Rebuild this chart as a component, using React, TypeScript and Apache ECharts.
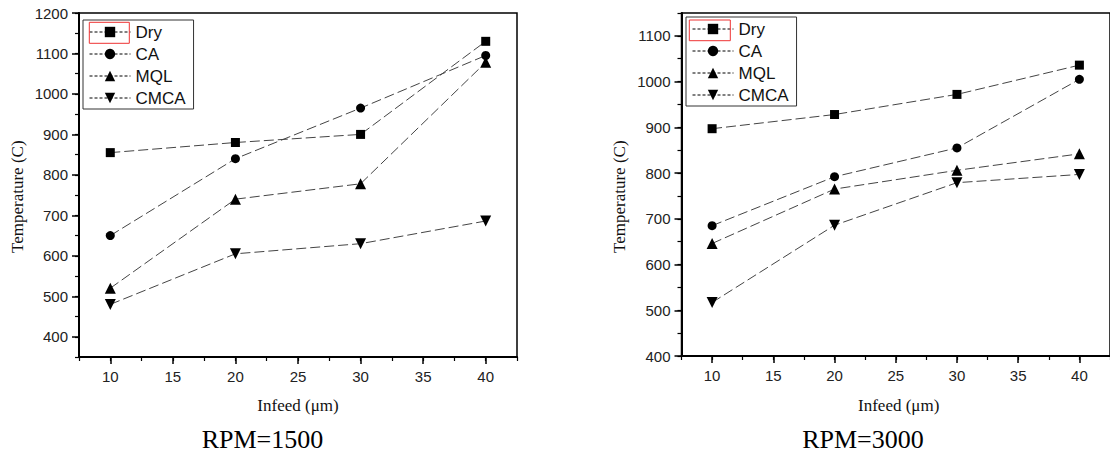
import React, { useEffect, useRef } from "react";
import * as echarts from "echarts";

const infeed = [10, 20, 30, 40];
const seriesNames = ["Dry", "CA", "MQL", "CMCA"];
const dry1500 = [855, 880, 900, 1130];
const ca1500 = [650, 840, 965, 1095];
const mql1500 = [520, 740, 778, 1078];
const cmca1500 = [480, 605, 630, 686];
const dry3000 = [897, 928, 972, 1036];
const ca3000 = [685, 792, 855, 1005];
const mql3000 = [646, 765, 806, 842];
const cmca3000 = [517, 686, 779, 797];
const xMajorTicks = [10, 15, 20, 25, 30, 35, 40];
const yMajorTicks1500 = [400, 500, 600, 700, 800, 900, 1000, 1100, 1200];
const yMajorTicks3000 = [400, 500, 600, 700, 800, 900, 1000, 1100];
const panelTitles = ["RPM=1500", "RPM=3000"];
const xTitle = "Infeed (\u03bcm)";
const yTitle = "Temperature (C)";

const SANS = "Liberation Sans, Arial, sans-serif";
const SERIF = "Liberation Serif, Times New Roman, serif";

const symbols = ["rect", "circle", "triangle", "triangle"];
const rotates = [0, 0, 0, 180];
const sizes = [9, 9, 11, 11];

function pairs(vals: number[]) {
  return infeed.map((x, i) => [x, vals[i]]);
}

const plain = (v: number) => String(v);

function makeXAxes(grid: number) {
  const base = { type: "value", gridIndex: grid, position: "bottom", offset: 0, min: 7.5, max: 42.5, interval: 2.5, splitLine: { show: false } };
  return [
    {
      ...base,
      axisLine: { show: true, lineStyle: { color: "#000", width: 2 } },
      axisTick: { show: true, inside: false, length: 7, customValues: xMajorTicks, lineStyle: { color: "#000", width: 1.5 } },
      axisLabel: { show: true, customValues: xMajorTicks, formatter: plain, margin: 12, fontSize: 15, fontFamily: SANS, color: "#222" },
    },
    {
      ...base,
      axisLine: { show: false },
      axisTick: { show: true, inside: false, length: 4, lineStyle: { color: "#000", width: 1.2 } },
      axisLabel: { show: false },
    },
  ];
}

function makeYAxes(grid: number, min: number, max: number, major: number[]) {
  const base = { type: "value", gridIndex: grid, position: "left", offset: 0, min, max, interval: 50, splitLine: { show: false } };
  return [
    {
      ...base,
      axisLine: { show: true, lineStyle: { color: "#000", width: 2 } },
      axisTick: { show: true, inside: false, length: 7, customValues: major, lineStyle: { color: "#000", width: 1.5 } },
      axisLabel: { show: true, customValues: major, formatter: plain, margin: 11, fontSize: 15, fontFamily: SANS, color: "#222" },
    },
    {
      ...base,
      axisLine: { show: false },
      axisTick: { show: true, inside: false, length: 4, lineStyle: { color: "#000", width: 1.2 } },
      axisLabel: { show: false },
    },
  ];
}

function makeSeries(grid: number, arrays: number[][]) {
  return arrays.map((vals, i) => ({
    type: "line",
    name: seriesNames[i],
    xAxisIndex: grid * 2,
    yAxisIndex: grid * 2,
    data: pairs(vals),
    symbol: symbols[i],
    symbolRotate: rotates[i],
    symbolSize: sizes[i],
    itemStyle: { color: "#000" },
    lineStyle: { color: "#444", width: 1, type: [10, 4] },
  }));
}

function makeLegend(left: number, top: number) {
  return {
    orient: "vertical",
    left,
    top,
    data: seriesNames,
    selectedMode: false,
    itemWidth: 41,
    itemHeight: 13,
    itemGap: 2,
    padding: [2, 8, 1, 6],
    borderColor: "#333",
    borderWidth: 1,
    backgroundColor: "#fff",
    lineStyle: { color: "#000", width: 1, type: [3, 2] },
    textStyle: { fontSize: 17, lineHeight: 20, fontFamily: SANS, color: "#111" },
  };
}

export default function App() {
  const ref = useRef<HTMLDivElement>(null);
  useEffect(() => {
    if (!ref.current) return;
    const chart = echarts.init(ref.current, null, { renderer: "svg" });
    const option = {
      animation: false,
      backgroundColor: "#fff",
      grid: [
        { left: 79, top: 13, width: 438, height: 344, show: true, borderColor: "#000", borderWidth: 1.5, containLabel: false },
        { left: 681.5, top: 13, width: 434.5, height: 343, show: true, borderColor: "#000", borderWidth: 1.5, containLabel: false },
      ],
      xAxis: [...makeXAxes(0), ...makeXAxes(1)],
      yAxis: [...makeYAxes(0, 350, 1200, yMajorTicks1500), ...makeYAxes(1, 400, 1150, yMajorTicks3000)],
      legend: [makeLegend(83, 20), makeLegend(686, 17)],
      series: [
        ...makeSeries(0, [dry1500, ca1500, mql1500, cmca1500]),
        ...makeSeries(1, [dry3000, ca3000, mql3000, cmca3000]),
      ],
      graphic: [
        { type: "rect", shape: { x: 89.3, y: 22.3, width: 40, height: 21 }, style: { fill: "none", stroke: "#e33", lineWidth: 1 }, z: 100 },
        { type: "rect", shape: { x: 689.3, y: 20, width: 41, height: 20.7 }, style: { fill: "none", stroke: "#e33", lineWidth: 1 }, z: 100 },
        { type: "text", x: 17.5, y: 196.7, rotation: Math.PI / 2, style: { text: yTitle, font: `17px ${SERIF}`, fill: "#111", align: "center", verticalAlign: "middle" } },
        { type: "text", x: 619.5, y: 196.7, rotation: Math.PI / 2, style: { text: yTitle, font: `17px ${SERIF}`, fill: "#111", align: "center", verticalAlign: "middle" } },
        { type: "text", x: 298, y: 405, style: { text: xTitle, font: `17px ${SERIF}`, fill: "#111", align: "center", verticalAlign: "middle" } },
        { type: "text", x: 898.7, y: 405, style: { text: xTitle, font: `17px ${SERIF}`, fill: "#111", align: "center", verticalAlign: "middle" } },
        { type: "text", x: 262.5, y: 439, style: { text: panelTitles[0], font: `26px ${SERIF}`, fill: "#000", align: "center", verticalAlign: "middle" } },
        { type: "text", x: 863, y: 439, style: { text: panelTitles[1], font: `26px ${SERIF}`, fill: "#000", align: "center", verticalAlign: "middle" } },
      ],
    };
    chart.setOption(option as any);
    return () => chart.dispose();
  }, []);
  return (
    <div
      ref={ref}
      style={{ position: "fixed", left: 0, top: 0, width: 1110, height: 454, background: "#fff" }}
    />
  );
}
